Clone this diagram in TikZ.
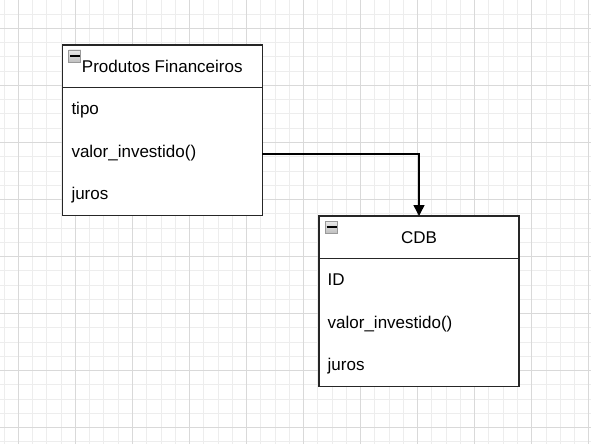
\documentclass[tikz,border=0pt]{standalone}
\usepackage{fontspec}
\setmainfont{Liberation Sans}
\usetikzlibrary{positioning, arrows.meta}
\tikzstyle{hdr}=[draw=black!85,line width=1.5pt,fill=white,minimum width=200pt,minimum height=42.7pt,inner sep=0pt,outer sep=0pt]
\tikzstyle{body}=[hdr,minimum height=128pt]
\tikzstyle{item}=[anchor=west,inner sep=0pt,text height=1.5ex,text depth=.25ex]
\tikzstyle{tgl}=[draw=black!40,top color=black!8,bottom color=black!25,line width=0.8pt,minimum size=12pt,inner sep=0pt]
\tikzstyle{gridminor}=[black!7,line width=0.8pt]
\tikzstyle{gridmajor}=[black!15,line width=0.8pt]

\begin{document}
\begin{tikzpicture}[x=1pt,y=-1pt,font=\fontsize{17}{20}\selectfont]
    \useasboundingbox[fill=white] (0,0) rectangle (591,444);
    % background grid
    \foreach \i in {0,...,41} \draw[gridminor] ({4.04+14.26*\i},0) -- ({4.04+14.26*\i},444);
    \foreach \i in {0,...,31} \draw[gridminor] (0,{-0.2+14.26*\i}) -- (591,{-0.2+14.26*\i});
    \foreach \i in {0,...,10} \draw[gridmajor] ({18.3+57.05*\i},0) -- ({18.3+57.05*\i},444);
    \foreach \i in {0,...,7} \draw[gridmajor] (0,{28.3+57.05*\i}) -- (591,{28.3+57.05*\i});
    % classes
    \node[hdr] (pf) at (162.3,66.35) {Produtos Financeiros};
    \node[body,below=0pt of pf] (pfb) {};
    \node[hdr] (cdb) at (419,237.35) {CDB};
    \node[body,below=0pt of cdb] (cdbb) {};
    \foreach \c in {pf, cdb} {
        \node[tgl] (\c t) at ([xshift=12.5pt,yshift=-11pt]\c.north west) {};
        \draw[line width=1.3pt] ([xshift=-5pt]\c t.center) -- ([xshift=5pt]\c t.center);
    }
    \foreach \t [count=\k] in {tipo, valor\_investido(), juros}
        \node[item] (pf\k) at ([xshift=9pt,yshift={-23.5pt-(\k-1)*42.7pt}]pfb.north west) {\t};
    \foreach \t [count=\k] in {ID, valor\_investido(), juros}
        \node[item] (cdb\k) at ([xshift=8.5pt,yshift={-23.5pt-(\k-1)*42.7pt}]cdbb.north west) {\t};
    % link
    \draw[-{Triangle[length=11pt,width=11pt]},line width=1.5pt] (pfb.east |- pf2) -| (cdb.north);
\end{tikzpicture}
\end{document}
